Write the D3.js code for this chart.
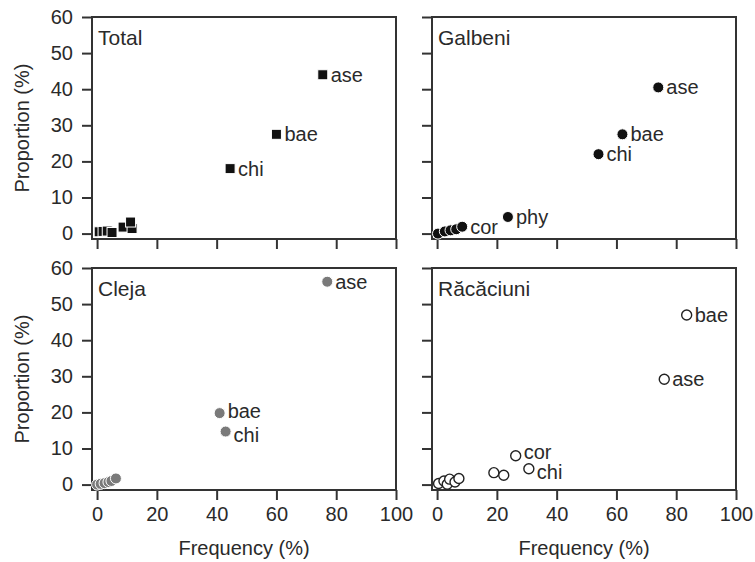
<!DOCTYPE html>
<html>
<head>
<meta charset="utf-8">
<script src="https://cdn.jsdelivr.net/npm/d3@7"></script>
<style>
  body { margin: 0; background: #fff; }
  text { font-family: "Liberation Sans", Arial, sans-serif; fill: #2a2a2a; }
</style>
</head>
<body>
<svg id="chart" width="755" height="562"></svg>
<script>
// data: [frequency %, proportion %, label]
var totalPts = [[0.7, 0.5, ""], [2, 0.6, ""], [3.4, 0.7, ""], [5, 0.3, ""], [8.7, 1.8, ""],
  [11.7, 1.4, ""], [11.2, 3.2, ""], [44.5, 18, "chi"], [60, 27.5, "bae"], [75.5, 44, "ase"]];
var galbeniPts = [[0.3, 0, ""], [2.6, 0.6, ""], [4.5, 0.9, ""], [6.4, 1.2, ""], [8.4, 1.9, "cor"],
  [23.7, 4.6, "phy"], [54, 22, "chi"], [62, 27.5, "bae"], [74, 40.5, "ase"]];
var clejaPts = [[0, 0, ""], [1.2, 0.2, ""], [2.5, 0.4, ""], [3.8, 0.7, ""], [4.8, 1, ""],
  [6.3, 1.7, ""], [41, 19.8, "bae"], [43, 14.7, "chi"], [77, 56.2, "ase"]];
var racaciuniPts = [[0.5, 0.3, ""], [2.3, 1, ""], [3.4, 0.1, ""], [4.2, 1.5, ""], [6, 0.7, ""],
  [7.3, 1.7, ""], [19, 3.3, ""], [22.3, 2.6, ""], [26.3, 8, "cor"], [30.7, 4.4, "chi"],
  [83.5, 47, "bae"], [76, 29.2, "ase"]];
var xTicks = [0, 20, 40, 60, 80, 100];
var yTicks = [0, 10, 20, 30, 40, 50, 60];

var panels = [
  {name: "Total", pts: totalPts, shape: "square", fill: "#111", x0: 92, y0: 17, yLab: true, xLab: false},
  {name: "Galbeni", pts: galbeniPts, shape: "circle", fill: "#111", x0: 432, y0: 17, yLab: false, xLab: false},
  {name: "Cleja", pts: clejaPts, shape: "circle", fill: "#7a7a7a", x0: 92, y0: 268, yLab: true, xLab: true,
   nudge: {bae: -2, chi: 3}},
  {name: "R\u0103c\u0103ciuni", pts: racaciuniPts, shape: "open", fill: "#fff", x0: 432, y0: 268, yLab: false, xLab: true,
   nudge: {cor: -4, chi: 3}}
];

var pw = 304, ph = 222;
var svg = d3.select("#chart");

panels.forEach(function(p) {
  var x = d3.scaleLinear().domain([-1.7, 100]).range([p.x0, p.x0 + pw]);
  var y = d3.scaleLinear().domain([-1.5, 60]).range([p.y0 + ph, p.y0]);
  var g = svg.append("g");

  var yAxis = g.append("g")
    .attr("transform", "translate(" + p.x0 + ",0)")
    .call(d3.axisLeft(y).tickValues(yTicks).tickSize(10).tickSizeOuter(0).tickPadding(9));
  var xAxis = g.append("g")
    .attr("transform", "translate(0," + (p.y0 + ph) + ")")
    .call(d3.axisBottom(x).tickValues(xTicks).tickSize(10).tickSizeOuter(0).tickPadding(7));
  [yAxis, xAxis].forEach(function(a) {
    a.select(".domain").remove();
    a.selectAll("line").attr("stroke", "#333").attr("stroke-width", 2);
    a.selectAll("text").style("font-size", "20px").attr("fill", "#333")
      .style("font-family", "Liberation Sans, Arial, sans-serif");
  });
  if (!p.yLab) yAxis.selectAll("text").remove();
  if (!p.xLab) xAxis.selectAll("text").remove();

  g.append("rect")
    .attr("x", p.x0).attr("y", p.y0).attr("width", pw).attr("height", ph)
    .attr("fill", "none").attr("stroke", "#333").attr("stroke-width", 2);

  g.append("text")
    .attr("x", p.x0 + 6).attr("y", p.y0 + 28)
    .style("font-size", "21px")
    .text(p.name);

  var marks = g.selectAll(".pt").data(p.pts).enter();
  if (p.shape == "square") {
    marks.append("rect")
      .attr("x", function(d) { return x(d[0]) - 5; })
      .attr("y", function(d) { return y(d[1]) - 5; })
      .attr("width", 10).attr("height", 10)
      .attr("fill", p.fill).attr("stroke", "#fff").attr("stroke-width", 1);
  } else if (p.shape == "circle") {
    marks.append("circle")
      .attr("cx", function(d) { return x(d[0]); })
      .attr("cy", function(d) { return y(d[1]); })
      .attr("r", 5.5)
      .attr("fill", p.fill).attr("stroke", "#fff").attr("stroke-width", 1);
  } else {
    marks.append("circle")
      .attr("cx", function(d) { return x(d[0]); })
      .attr("cy", function(d) { return y(d[1]); })
      .attr("r", 5)
      .attr("fill", "#fff").attr("stroke", "#222").attr("stroke-width", 1.4);
  }

  var nudge = p.nudge || {};
  g.selectAll(".lab").data(p.pts.filter(function(d) { return d[2]; })).enter()
    .append("text")
    .attr("x", function(d) { return x(d[0]) + 8; })
    .attr("y", function(d) { return y(d[1]) + (nudge[d[2]] || 0); })
    .attr("dy", "0.35em")
    .style("font-size", "20px")
    .text(function(d) { return d[2]; });

  if (p.yLab) {
    g.append("text")
      .attr("transform", "translate(29," + (p.y0 + ph / 2) + ") rotate(-90)")
      .attr("text-anchor", "middle")
      .style("font-size", "20px")
      .text("Proportion (%)");
  }
  if (p.xLab) {
    g.append("text")
      .attr("x", p.x0 + pw / 2).attr("y", 555)
      .attr("text-anchor", "middle")
      .style("font-size", "20px")
      .text("Frequency (%)");
  }
});
</script>
</body>
</html>
